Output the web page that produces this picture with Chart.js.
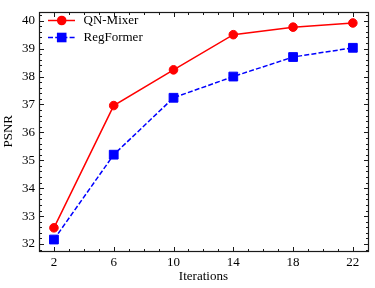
<!DOCTYPE html>
<html>
<head>
<meta charset="utf-8">
<script src="https://cdn.jsdelivr.net/npm/chart.js@4.4.1/dist/chart.umd.min.js"></script>
<style>
  html, body { margin: 0; padding: 0; background: #fff; }
  #wrap { width: 375px; height: 288px; }
</style>
</head>
<body>
<div id="wrap"><canvas id="myChart" width="375" height="288"></canvas></div>
<script>
var iterations = [2, 6, 10, 14, 18, 22];
var qnMixer = [32.58, 36.96, 38.24, 39.50, 39.77, 39.92];
var regFormer = [32.16, 35.20, 37.24, 38.00, 38.70, 39.03];
var xTicks = [2, 6, 10, 14, 18, 22];
var yTicks = [32, 33, 34, 35, 36, 37, 38, 39, 40];

var fontFamily = '"Liberation Serif", "DejaVu Serif", serif';
var fontSize = 13;

function toPoints(xs, ys) {
    var pts = [];
    for (var i = 0; i < xs.length; i++) {
        pts.push({ x: xs[i], y: ys[i] });
    }
    return pts;
}

// frame with inward major/minor ticks on all four sides
var frameTicks = {
    id: 'frameTicks',
    afterDraw: function(chart) {
        var ctx = chart.ctx;
        var a = chart.chartArea;
        var xs = chart.scales.x, ys = chart.scales.y;
        var L = Math.round(a.left) + 0.5, R = Math.round(a.right) + 0.5;
        var T = Math.round(a.top) + 0.5, B = Math.round(a.bottom) + 0.5;
        ctx.save();
        ctx.strokeStyle = '#1a1a1a';
        ctx.lineWidth = 1;
        ctx.beginPath();
        var v, p, len;
        for (v = 1; v <= 23; v++) {
            p = Math.round(xs.getPixelForValue(v)) + 0.5;
            len = (xTicks.indexOf(v) >= 0) ? 4.5 : 2.5;
            ctx.moveTo(p, B); ctx.lineTo(p, B - len);
            ctx.moveTo(p, T); ctx.lineTo(p, T + len);
        }
        for (v = 31.8; v <= 40.3; v += 0.2) {
            var rv = Math.round(v * 10) / 10;
            p = Math.round(ys.getPixelForValue(rv)) + 0.5;
            len = (Math.abs(rv - Math.round(rv)) < 0.01) ? 4.5 : 2.5;
            ctx.moveTo(L, p); ctx.lineTo(L + len, p);
            ctx.moveTo(R, p); ctx.lineTo(R - len, p);
        }
        ctx.stroke();
        ctx.lineWidth = 1.2;
        ctx.strokeRect(L, T, R - L, B - T);
        ctx.restore();
    }
};

// legend: line sample + marker + label, no frame
var sampleLegend = {
    id: 'sampleLegend',
    afterDraw: function(chart) {
        var ctx = chart.ctx;
        var rows = [
            { label: 'QN-Mixer', color: '#ff0000', dash: [], shape: 'circle', y: 20.5 },
            { label: 'RegFormer', color: '#0000ff', dash: [5, 2.2], shape: 'square', y: 37.5 }
        ];
        ctx.save();
        rows.forEach(function(r) {
            ctx.strokeStyle = r.color;
            ctx.fillStyle = r.color;
            ctx.lineWidth = 1.5;
            ctx.setLineDash(r.dash);
            ctx.beginPath();
            ctx.moveTo(48, r.y);
            ctx.lineTo(75, r.y);
            ctx.stroke();
            ctx.setLineDash([]);
            ctx.beginPath();
            if (r.shape === 'circle') {
                ctx.arc(61.7, r.y, 4.8, 0, Math.PI * 2);
            } else {
                ctx.rect(61.7 - 4.8, r.y - 4.8, 9.6, 9.6);
            }
            ctx.fill();
            ctx.fillStyle = '#000';
            ctx.font = fontSize + 'px ' + fontFamily;
            ctx.textBaseline = 'middle';
            ctx.textAlign = 'left';
            ctx.fillText(r.label, 83.5, r.y);
        });
        ctx.restore();
    }
};

var ctx = document.getElementById('myChart').getContext('2d');
var myChart = new Chart(ctx, {
    type: 'line',
    data: {
        datasets: [{
            label: 'QN-Mixer',
            data: toPoints(iterations, qnMixer),
            borderColor: '#ff0000',
            backgroundColor: '#ff0000',
            borderWidth: 1.5,
            pointStyle: 'circle',
            pointRadius: 4.3,
            pointBorderWidth: 1,
            tension: 0
        }, {
            label: 'RegFormer',
            data: toPoints(iterations, regFormer),
            borderColor: '#0000ff',
            backgroundColor: '#0000ff',
            borderWidth: 1.5,
            borderDash: [5, 2.2],
            pointStyle: 'rect',
            pointRadius: 6.2,
            pointBorderWidth: 1,
            tension: 0
        }]
    },
    options: {
        responsive: false,
        animation: false,
        devicePixelRatio: 1,
        layout: { padding: { top: 5, right: 6.4, left: 0, bottom: 0 } },
        plugins: {
            legend: { display: false },
            tooltip: { enabled: false }
        },
        scales: {
            x: {
                type: 'linear',
                min: 1,
                max: 23,
                afterBuildTicks: function(scale) {
                    scale.ticks = xTicks.map(function(v) { return { value: v }; });
                },
                afterFit: function(scale) { scale.height = 37.3; },
                grid: { display: false, drawTicks: false },
                border: { display: false },
                ticks: {
                    color: '#000',
                    padding: 4,
                    maxRotation: 0,
                    font: { family: fontFamily, size: fontSize }
                },
                title: {
                    display: true,
                    text: 'Iterations',
                    color: '#000',
                    padding: { top: 0, bottom: 4 },
                    font: { family: fontFamily, size: fontSize }
                }
            },
            y: {
                min: 31.76,
                max: 40.32,
                afterBuildTicks: function(scale) {
                    scale.ticks = yTicks.map(function(v) { return { value: v }; });
                },
                afterFit: function(scale) { scale.width = 39; },
                grid: { display: false, drawTicks: false },
                border: { display: false },
                ticks: {
                    color: '#000',
                    padding: 4,
                    font: { family: fontFamily, size: fontSize }
                },
                title: {
                    display: true,
                    text: 'PSNR',
                    color: '#000',
                    padding: { top: 1, bottom: 0 },
                    font: { family: fontFamily, size: fontSize }
                }
            }
        }
    },
    plugins: [frameTicks, sampleLegend]
});
</script>
</body>
</html>
